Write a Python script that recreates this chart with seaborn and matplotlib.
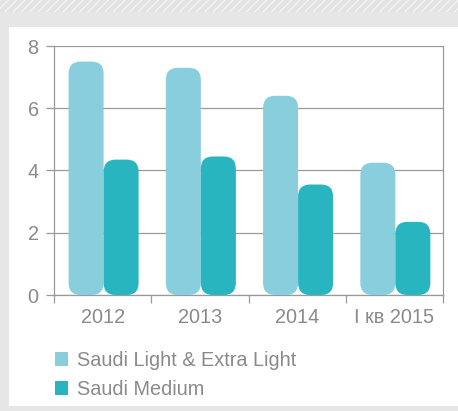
import matplotlib
matplotlib.use("Agg")
import matplotlib.pyplot as plt
from matplotlib.patches import FancyBboxPatch, Rectangle, Patch
import seaborn as sns
import pandas as pd

# данные
periods = ["2012", "2013", "2014", "I кв 2015"]
light = [7.5, 7.3, 6.4, 4.25]
medium = [4.35, 4.45, 3.55, 2.35]
series_names = ["Saudi Light & Extra Light", "Saudi Medium"]
colors = ["#88cedc", "#28b5bf"]

sns.set_style("white")
plt.rcParams['font.family'] = ['Liberation Sans', 'DejaVu Sans']

df = pd.DataFrame({
    "period": periods * 2,
    "value": light + medium,
    "series": [series_names[0]] * 4 + [series_names[1]] * 4,
})

fig = plt.figure(figsize=(4.58, 4.11), dpi=100, facecolor="#e6e6e6")

# полосатая шапка и белая панель
fig.patches.append(Rectangle((0, 1 - 12 / 411), 1, 12 / 411, transform=fig.transFigure,
                             facecolor="#e2e2e2", edgecolor="#f4f4f4", hatch="////",
                             linewidth=0, zorder=-10))
fig.patches.append(Rectangle((9 / 458, 5 / 411), 1, (406 - 27) / 411, transform=fig.transFigure,
                             facecolor="white", edgecolor="none", zorder=-10))

ax = fig.add_axes([54 / 458, 1 - 295 / 411, (443 - 54) / 458, (295 - 46) / 411])
ax.set_facecolor("none")

sns.barplot(data=df, x="period", y="value", hue="series", palette=colors,
            width=0.72, gap=0, saturation=1, legend=False, ax=ax, zorder=3)

# скруглённые столбики
r = 0.125
aspect = (8 / 249) / (1 / 97.25)
for p in list(ax.patches):
    x, y = p.get_x(), p.get_y()
    w, h = p.get_width(), p.get_height()
    fc = p.get_facecolor()
    p.set_visible(False)
    ax.add_patch(FancyBboxPatch((x + 0.01, y), w, h,
                                boxstyle=f"round,pad=0,rounding_size={r}",
                                mutation_aspect=aspect, facecolor=fc,
                                edgecolor="none", zorder=3))

ax.set_xlim(-0.5, 3.5)
ax.set_ylim(0, 8)
ax.set_yticks([0, 2, 4, 6, 8])
ax.set_xlabel("")
ax.set_ylabel("")
ax.yaxis.grid(True, color="#9a9a9a", linewidth=0.9, zorder=0)
ax.set_axisbelow(True)

ax.spines["top"].set_visible(False)
for s in ["left", "right", "bottom"]:
    ax.spines[s].set_color("#9a9a9a")
    ax.spines[s].set_linewidth(0.9)

# деления по границам категорий
ax.set_xticks([-0.5, 0.5, 1.5, 2.5, 3.5])
ax.set_xticklabels([])
ax.set_xticks([0, 1, 2, 3], minor=True)
ax.set_xticklabels(periods, minor=True)
ax.tick_params(axis="x", which="major", length=6, color="#9a9a9a", width=0.9, direction="out", bottom=True)
ax.tick_params(axis="x", which="minor", length=0, pad=9, labelsize=14.3, labelcolor="#8a8a8a")
ax.tick_params(axis="y", length=6, color="#9a9a9a", width=0.9, labelsize=14.3,
               labelcolor="#8a8a8a", left=True, pad=5)

handles = [Patch(facecolor=c, edgecolor="none") for c in colors]
fig.legend(handles, series_names, loc="upper left", bbox_to_anchor=(37 / 458, 1 - 333 / 411),
           frameon=False, fontsize=14.3, labelcolor="#8a8a8a", handlelength=0.66,
           handleheight=0.66, handletextpad=0.45, labelspacing=0.5)

fig.savefig("out.png", dpi=100, facecolor=fig.get_facecolor())
